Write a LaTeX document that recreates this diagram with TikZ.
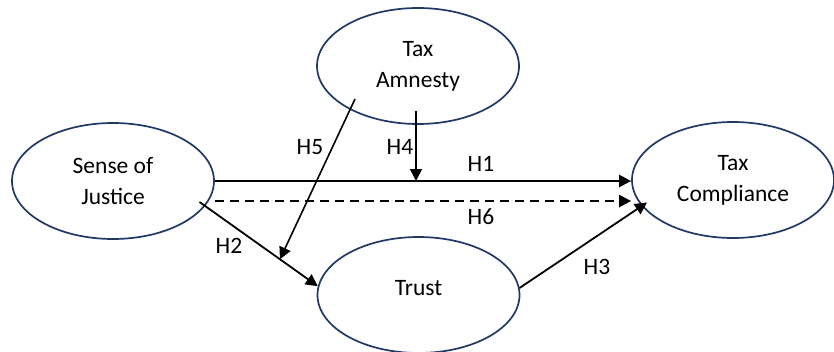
\documentclass[tikz,border=0pt]{standalone}
\usepackage{fontspec}
\setmainfont{Carlito}
\usetikzlibrary{arrows.meta,shapes.geometric,calc}
\definecolor{navy}{RGB}{31,56,100}
\begin{document}
\begin{tikzpicture}[x=1pt,y=-1pt,
 ell/.style={ellipse,draw=navy,line width=1.7pt,minimum width=202pt,minimum height=116pt,inner sep=0pt,align=center,font=\fontsize{23.5}{31}\selectfont},
 arr/.style={line width=1.8pt,-{Triangle[length=12pt,width=12pt]}},
 thinarr/.style={line width=1.6pt,-{Triangle[length=12pt,width=12pt]}},
 lab/.style={font=\fontsize{23.5}{28}\selectfont,inner sep=0pt}]
\useasboundingbox (0,0) rectangle (834,351);
\node[ell] (ta) at (418,66) {Tax\\Amnesty};
\node[ell] (sj) at (113,181) {Sense of\\Justice};
\node[ell] (tc) at (733,180) {Tax\\Compliance};
\node[ell] (tr) at (418.5,295) {};
\node[lab] (trt) at (418.5,288) {Trust};
% H1
\draw[arr,line width=2.2pt] (sj.east) -- (sj.east -| tc.west);
% H6
\draw[arr,line width=2.2pt,dash pattern=on 9pt off 6pt] ([yshift=-20pt]sj.east) -- ([yshift=-20pt]sj.east -| tc.west);
% H4
\coordinate (h4s) at (416,111);
\draw[thinarr] (h4s) -- (h4s |- sj.east);
% H2
\coordinate (h2s) at (199.5,202);
\draw[arr] (h2s) -- (tr.175.5);
% H5
\coordinate (h5s) at (355,99);
\draw[thinarr] (h5s) -- ($(h2s)!0.68!(tr.175.5)$);
% H3
\coordinate (h3e) at (647,202.5);
\draw[arr] (tr.4.5) -- (h3e);
% labels
\node[lab] (l5) at (310,147) {H5};
\node[lab] (l4) at (400,147) {H4};
\node[lab] (l1) at (481,164) {H1};
\node[lab] (l6) at (481,217) {H6};
\node[lab] (l2) at (229,246) {H2};
\node[lab] (l3) at (597,267) {H3};
\end{tikzpicture}
\end{document}
